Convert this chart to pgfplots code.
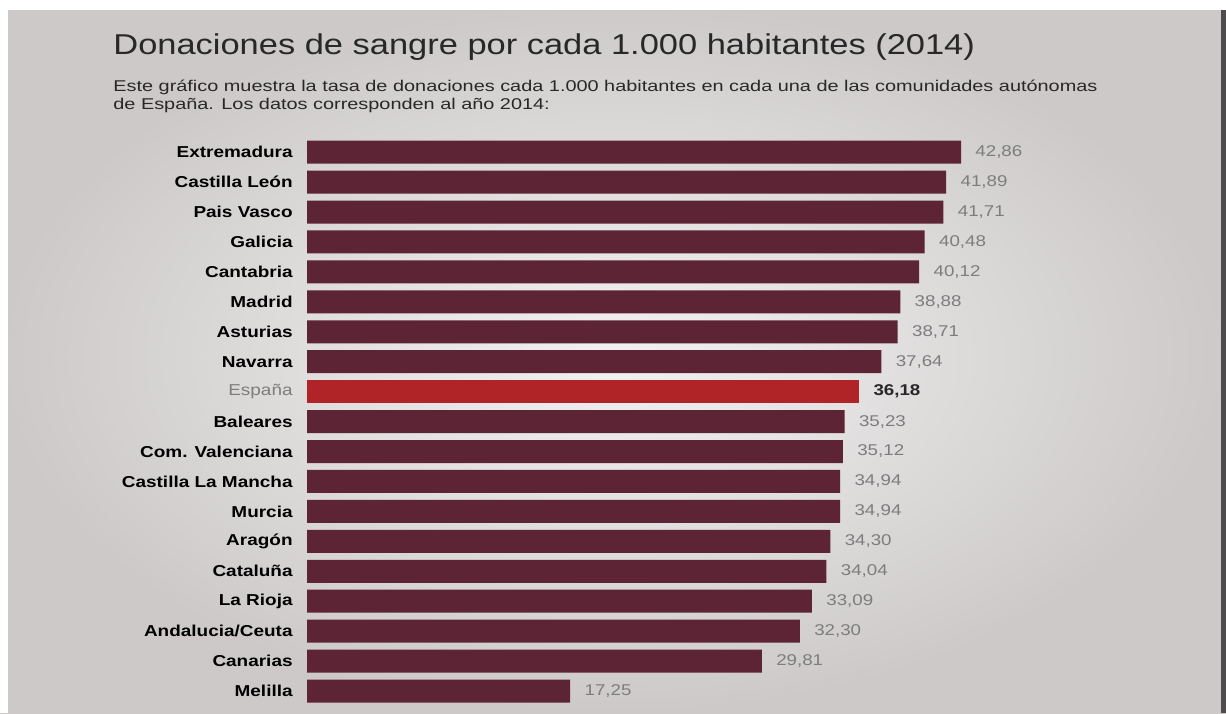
\documentclass[border=0pt]{standalone}
\usepackage{fontspec}
\setmainfont{Liberation Sans}
\usepackage{graphicx}
\usepackage{pgfplots}
\pgfplotsset{compat=1.18}
\definecolor{barc}{RGB}{92,36,52}
\definecolor{spainc}{RGB}{176,36,40}
\definecolor{bgin}{RGB}{242,241,241}
\definecolor{bgout}{RGB}{205,201,201}
\definecolor{txt}{RGB}{40,40,40}
\definecolor{valc}{RGB}{125,125,125}
\newcommand\hs[1]{\scalebox{1.2}[1]{#1}}
\newcommand\lab[1]{\hs{\bfseries #1}}
\begin{document}
\begin{tikzpicture}
\shade[inner color=bgin, outer color=bgout] (0,0) rectangle (613pt,356.5pt);
\fill[white] (0,351.5pt) rectangle (613pt,356.5pt);
\fill[white] (0,0) rectangle (4pt,356.5pt);
\fill[black!70] (610.5pt,0) rectangle (613pt,351.5pt);
\node[anchor=base west, inner sep=0pt, text=txt] at (56.5pt,329.2pt)
  {\scalebox{1.2}[1]{\fontsize{14.35}{16}\selectfont Donaciones de sangre por cada 1.000 habitantes (2014)}};
\node[anchor=base west, inner sep=0pt, text=txt] at (56.5pt,310.5pt)
  {\scalebox{1.275}[1]{\fontsize{7.8}{9}\selectfont Este gráfico muestra la tasa de donaciones cada 1.000 habitantes en cada una de las comunidades autónomas}};
\node[anchor=base west, inner sep=0pt, text=txt] at (56.5pt,301.5pt)
  {\scalebox{1.275}[1]{\fontsize{7.8}{9}\selectfont de España. Los datos corresponden al año 2014:}};
\begin{axis}[
  at={(153.5pt,3.5pt)}, anchor=south west,
  scale only axis, width=343.35pt, height=284.4pt,
  xmin=0, xmax=45, ymin=-0.5, ymax=18.5, y dir=reverse,
  axis line style={draw=none}, major tick length=0pt, xtick=\empty,
  clip=false,
  xbar, bar width=11.5pt, bar shift=0pt,
  ytick={0,...,18},
  yticklabels={\lab{Extremadura},\lab{Castilla León},\lab{Pais Vasco},\lab{Galicia},\lab{Cantabria},\lab{Madrid},\lab{Asturias},\lab{Navarra},{\hs{\color{valc}España}},\lab{Baleares},\lab{Com. Valenciana},\lab{Castilla La Mancha},\lab{Murcia},\lab{Aragón},\lab{Cataluña},\lab{La Rioja},\lab{Andalucia/Ceuta},\lab{Canarias},\lab{Melilla}},
  ticklabel style={font=\fontsize{7.9}{9}\selectfont, text=black},
  yticklabel style={anchor=east, inner sep=0pt, xshift=-7pt},
  point meta=x,
  /pgf/number format/assume math mode=true,
  nodes near coords={\hs{\pgfmathprintnumber[fixed,fixed zerofill,precision=2,use comma,assume math mode=true]{\pgfplotspointmeta}}},
  nodes near coords style={anchor=west, inner sep=0pt, xshift=7pt, font=\fontsize{7.8}{9}\selectfont, text=valc},
]
\addplot[fill=barc, draw=none] coordinates {
(42.86,0) (41.89,1) (41.71,2) (40.48,3) (40.12,4) (38.88,5) (38.71,6) (37.64,7)
(35.23,9) (35.12,10) (34.94,11) (34.94,12) (34.30,13) (34.04,14) (33.09,15) (32.30,16) (29.81,17) (17.25,18)};
\addplot[fill=spainc, draw=none, nodes near coords style={text=txt, font=\fontsize{7.8}{9}\selectfont\bfseries}] coordinates {(36.18,8)};
\end{axis}
\end{tikzpicture}
\end{document}
